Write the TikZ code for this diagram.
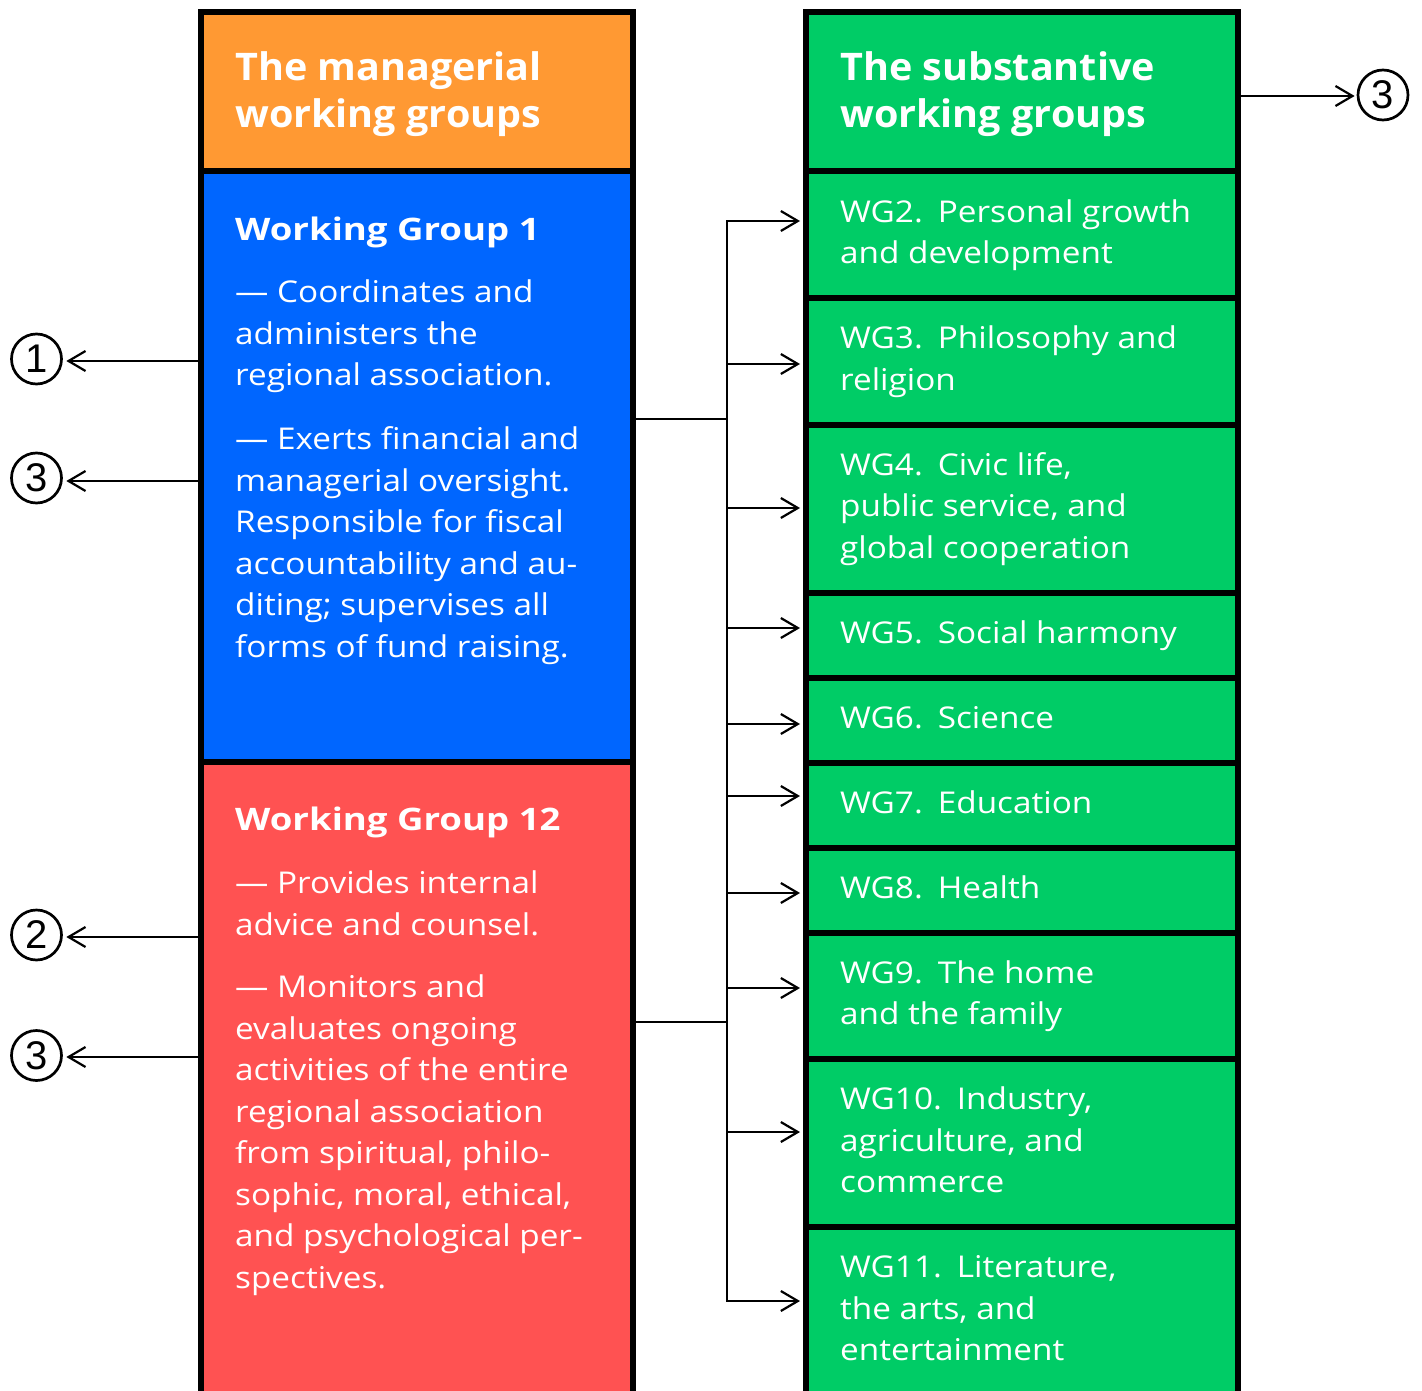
\documentclass[tikz,border=0pt]{standalone}
\usepackage{fontspec}
\setmainfont{Open Sans}[FakeStretch=1.11]
\newfontfamily\titlefont{Open Sans}[FakeStretch=1.04]
\newfontfamily\headfont{Open Sans}[FakeStretch=1.18]
\newfontfamily\circfont{Liberation Sans}
\usetikzlibrary{arrows.meta}
\definecolor{cOrange}{HTML}{FF9933}
\definecolor{cBlue}{HTML}{0066FF}
\definecolor{cRed}{HTML}{FF5252}
\definecolor{cGreen}{HTML}{00CC66}
\tikzset{
  cell/.style={draw=black, line width=6pt, rectangle, anchor=north west, inner sep=0pt, minimum width=432pt},
  titletxt/.style={anchor=north west, inner sep=0pt, text=white, align=left, font=\titlefont\bfseries\fontsize{38}{47}\selectfont},
  bodytxt/.style={anchor=north west, inner sep=0pt, text=white, align=left, font=\fontsize{30}{41.5}\selectfont},
  conn/.style={line width=2.2pt, black},
  arr/.style={line width=2.2pt, black, -{Straight Barb[length=17pt,width=20pt]}},
  circ/.style={circle, draw=black, line width=2.7pt, minimum size=50pt, inner sep=0pt, font=\circfont\fontsize{40}{40}\selectfont}
}
\newcommand{\wgsp}{\hspace{0.5em}}
\newcommand{\wghead}[1]{{\headfont\bfseries\fontsize{31}{41.5}\selectfont #1}}
\begin{document}
\begin{tikzpicture}[x=1pt,y=-1pt]
\useasboundingbox (0,0) rectangle (1422,1391);
\clip (0,0) rectangle (1422,1391);
% left column
\node[cell, fill=cOrange, minimum height=159.5pt] (mhead) at (198,9) {};
\node[cell, fill=cBlue, minimum height=590.5pt] (mg1) at (198,168.5) {};
\node[cell, fill=cRed, minimum height=668pt] (mg12) at (198,759) {};
% right column
\node[cell, fill=cGreen, minimum height=159.5pt] (shead) at (803,9) {};
\node[cell, fill=cGreen, minimum height=126.5pt] (wg2) at (803,168.5) {};
\node[cell, fill=cGreen, minimum height=126.5pt] (wg3) at (803,295) {};
\node[cell, fill=cGreen, minimum height=168.5pt] (wg4) at (803,421.5) {};
\node[cell, fill=cGreen, minimum height=84.5pt] (wg5) at (803,590) {};
\node[cell, fill=cGreen, minimum height=85pt] (wg6) at (803,674.5) {};
\node[cell, fill=cGreen, minimum height=85pt] (wg7) at (803,759.5) {};
\node[cell, fill=cGreen, minimum height=85pt] (wg8) at (803,844.5) {};
\node[cell, fill=cGreen, minimum height=126.5pt] (wg9) at (803,929.5) {};
\node[cell, fill=cGreen, minimum height=168pt] (wg10) at (803,1056) {};
\node[cell, fill=cGreen, minimum height=200pt] (wg11) at (803,1224) {};
% texts
\node[titletxt] (mheadt) at ([xshift=37pt,yshift=-38.1pt]mhead.north west) {\strut The managerial\\working groups};
\node[titletxt] (sheadt) at ([xshift=37pt,yshift=-38.1pt]shead.north west) {\strut The substantive\\working groups};
\node[bodytxt] (mg1t) at ([xshift=37pt,yshift=-42.5pt]mg1.north west) {\strut\wghead{Working Group 1}\\[21pt]
— Coordinates and\\administers the\\regional association.\\[22.5pt]
— Exerts financial and\\managerial oversight.\\Responsible for fiscal\\accountability and au-\\diting; supervises all\\forms of fund raising.};
\node[bodytxt] (mg12t) at ([xshift=37pt,yshift=-42.5pt]mg12.north west) {\strut\wghead{Working Group 12}\\[21.5pt]
— Provides internal\\advice and counsel.\\[21pt]
— Monitors and\\evaluates ongoing\\activities of the entire\\regional association\\from spiritual, philo-\\sophic, moral, ethical,\\and psychological per-\\spectives.};
\node[bodytxt] (wg2t) at ([xshift=37pt,yshift=-24.45pt]wg2.north west) {\strut WG2.\wgsp Personal growth\\and development};
\node[bodytxt] (wg3t) at ([xshift=37pt,yshift=-24.45pt]wg3.north west) {\strut WG3.\wgsp Philosophy and\\religion};
\node[bodytxt] (wg4t) at ([xshift=37pt,yshift=-24.45pt]wg4.north west) {\strut WG4.\wgsp Civic life,\\public service, and\\global cooperation};
\node[bodytxt] (wg5t) at ([xshift=37pt,yshift=-24.45pt]wg5.north west) {\strut WG5.\wgsp Social harmony};
\node[bodytxt] (wg6t) at ([xshift=37pt,yshift=-24.45pt]wg6.north west) {\strut WG6.\wgsp Science};
\node[bodytxt] (wg7t) at ([xshift=37pt,yshift=-24.45pt]wg7.north west) {\strut WG7.\wgsp Education};
\node[bodytxt] (wg8t) at ([xshift=37pt,yshift=-24.45pt]wg8.north west) {\strut WG8.\wgsp Health};
\node[bodytxt] (wg9t) at ([xshift=37pt,yshift=-24.45pt]wg9.north west) {\strut WG9.\wgsp The home\\and the family};
\node[bodytxt] (wg10t) at ([xshift=37pt,yshift=-24.45pt]wg10.north west) {\strut WG10.\wgsp Industry,\\agriculture, and\\commerce};
\node[bodytxt] (wg11t) at ([xshift=37pt,yshift=-24.45pt]wg11.north west) {\strut WG11.\wgsp Literature,\\the arts, and\\entertainment};
% circled numbers
\node[circ] (c1) at (36.5,359) {1};
\node[circ] (c3a) at (36.5,478) {3};
\node[circ] (c2) at (36.5,935) {2};
\node[circ] (c3b) at (36.5,1055.5) {3};
\node[circ] (c3c) at (1383,95) {3};
% arrows to circles
\coordinate (p1) at ([yshift=105.75pt]mg1.west);
\coordinate (p3a) at ([yshift=-14.25pt]mg1.west);
\coordinate (p2) at ([yshift=159pt]mg12.west);
\coordinate (p3b) at ([yshift=39pt]mg12.west);
\coordinate (p3c) at ([yshift=-4.25pt]shead.east);
\draw[arr, shorten >=3.5pt] (p1) -- (c1.east |- p1);
\draw[arr, shorten >=3.5pt] (p3a) -- (c3a.east |- p3a);
\draw[arr, shorten >=3.5pt] (p2) -- (c2.east |- p2);
\draw[arr, shorten >=3.5pt] (p3b) -- (c3b.east |- p3b);
\draw[arr, shorten >=2pt] (p3c) -- (c3c.west |- p3c);
% trunk
\coordinate (b1) at ([yshift=47.75pt]mg1.east);
\coordinate (b12) at ([yshift=74pt]mg12.east);
\coordinate (trtop) at (727,221);
\coordinate (trbot) at (727,1301);
\draw[conn] (b1) -- (b1 -| trtop);
\draw[conn] (b12) -- (b12 -| trtop);
\draw[conn, line cap=rect] (trtop) -- (trbot);
\foreach \n/\s in {wg2/13.75, wg3/-2.75, wg4/0.75, wg5/7.25, wg6/-4, wg7/9, wg8/-3, wg9/7.75, wg10/11, wg11/26}{
  \coordinate (a\n) at ([yshift=\s pt]\n.west);
  \draw[arr, shorten >=3pt] (a\n -| trtop) -- (a\n);
}
\end{tikzpicture}
\end{document}
